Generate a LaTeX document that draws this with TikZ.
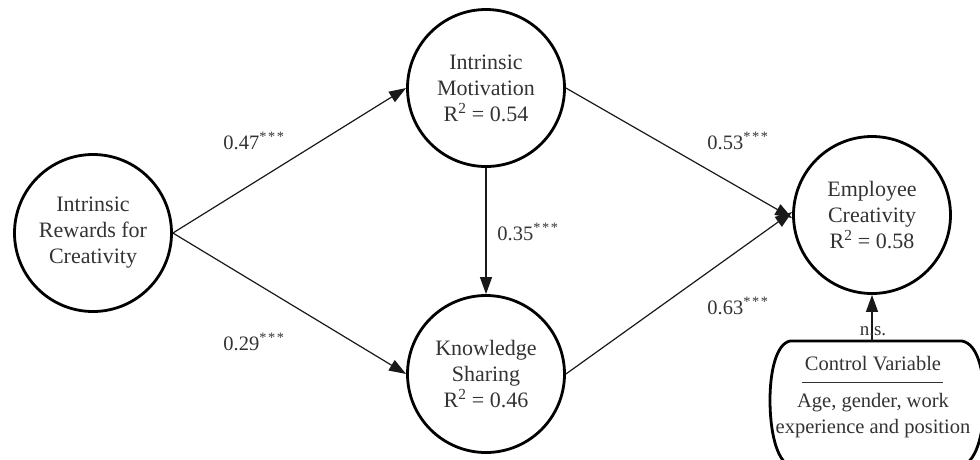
\documentclass[tikz,border=0pt]{standalone}
\usepackage{fontspec}
\setmainfont{Liberation Serif}
\usetikzlibrary{arrows.meta}
\newcommand{\stars}{\textsuperscript{*\hspace{1.6pt}*\hspace{1.6pt}*}}
\begin{document}
\begin{tikzpicture}[x=1pt,y=-1pt,
  var/.style={circle,draw=black,line width=2.8pt,minimum size=157pt,inner sep=0pt,align=center,
    font=\fontsize{22}{26}\selectfont,text=black!80},
  rel/.style={line width=1.2pt,draw=black!90,-{Triangle[length=17pt,width=12pt]}},
  coef/.style={font=\fontsize{20.5}{22}\selectfont,text=black!80,inner sep=0pt},
  txt/.style={font=\fontsize{20.5}{24}\selectfont,text=black!80,inner sep=0pt}]
\useasboundingbox (0,0) rectangle (980,459);
\clip (0,0) rectangle (980,459);
\node[var] (IR) at (93,233) {Intrinsic\\Rewards for\\Creativity};
\node[var] (IM) at (486,88) {Intrinsic\\Motivation\\R\textsuperscript{2} = 0.54};
\node[var] (KS) at (486,374) {Knowledge\\Sharing\\R\textsuperscript{2} = 0.46};
\node[var] (EC) at (872,215) {Employee\\Creativity\\R\textsuperscript{2} = 0.58};
% control variable box
\coordinate (CVtop) at (872,341);
\draw[black,line width=2.8pt] (790,341) -- (962,341)
  .. controls (978,344) and (984,372) .. (984,400)
  .. controls (984,430) and (978,460) .. (962,466) -- (790,466)
  .. controls (776,460) and (770,430) .. (770,400)
  .. controls (770,372) and (776,344) .. (790,341) -- cycle;
\node[txt] (cvt) at (873,364) {Control Variable};
\coordinate (rl) at (802,382);
\coordinate (rr) at (943,382);
\draw[line width=1pt,black!80] (rl) -- (rr);
\node[txt] (cv1) at (873,403) {Age, gender, work};
\node[txt] (cv2) at (873,429) {experience and position};
\draw[rel] (IR.east) -- (IM.west);
\draw[rel] (IR.east) -- (KS.west);
\draw[rel] (IM.south) -- (KS.north);
\draw[rel] (IM.east) -- ([yshift=-3pt]EC.west);
\draw[rel] (KS.east) -- ([yshift=3pt]EC.west);
\draw[rel] (CVtop) -- (EC.south);
\node[coef] (c1) at (254,141) {0.47\stars};
\node[coef] (c2) at (254,342) {0.29\stars};
\node[coef] (c3) at (528,232) {0.35\stars};
\node[coef] (c4) at (738,141) {0.53\stars};
\node[coef] (c5) at (738,306) {0.63\stars};
\node[coef,font=\fontsize{19}{20}\selectfont] (ns) at (873,331) {n.s.};
\end{tikzpicture}
\end{document}
